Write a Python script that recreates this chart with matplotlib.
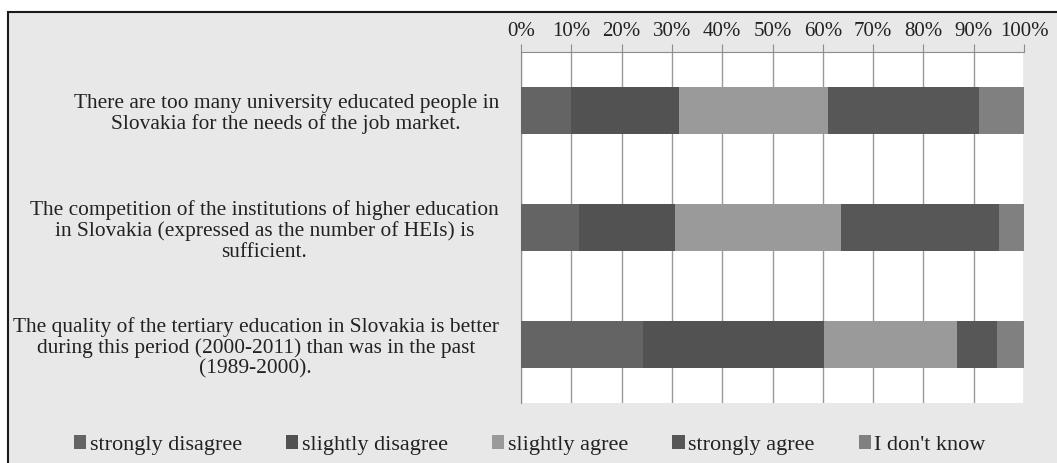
import matplotlib.pyplot as plt
from matplotlib.patches import Rectangle

plt.rcParams['font.family'] = ['Liberation Serif', 'DejaVu Serif']

statements = [
    "There are too many university educated people in\nSlovakia for the needs of the job market.",
    "The competition of the institutions of higher education\nin Slovakia (expressed as the number of HEIs) is\nsufficient.",
    "The quality of the tertiary education in Slovakia is better\nduring this period (2000-2011) than was in the past\n(1989-2000).",
]
answers = ["strongly disagree", "slightly disagree", "slightly agree", "strongly agree", "I don't know"]

strongly_disagree = [10.0, 11.5, 24.2]
slightly_disagree = [21.4, 19.1, 36.0]
slightly_agree = [29.6, 33.1, 26.4]
strongly_agree = [30.1, 31.4, 8.0]
dont_know = [8.9, 4.9, 5.4]

tick_values = list(range(0, 101, 10))
tick_labels = [f"{v}%" for v in tick_values]

colors = ["#646464", "#525252", "#9a9a9a", "#575757", "#808080"]
bg = "#e8e8e8"

fig = plt.figure(figsize=(10.57, 4.63), dpi=100)
fig.patch.set_facecolor("white")
# outer chart frame (cropped on the right and bottom)
fig.patches.append(Rectangle((8 / 1057, -0.1), 1.2, 1 - 12 / 463 + 0.1,
                             transform=fig.transFigure, facecolor=bg,
                             edgecolor="#1a1a1a", linewidth=1.5, zorder=-5))

ax = fig.add_axes([521 / 1057, 1 - 403 / 463, 503 / 1057, 351 / 463])
ax.set_zorder(2)
ax.set_facecolor("white")

series = [strongly_disagree, slightly_disagree, slightly_agree, strongly_agree, dont_know]
ypos = list(range(len(statements)))
left = [0.0] * len(statements)
for name, vals, c in zip(answers, series, colors):
    ax.barh(ypos, vals, left=left, height=0.41, color=c, label=name, zorder=3)
    left = [l + v for l, v in zip(left, vals)]

ax.set_xlim(0, 100)
ax.set_ylim(len(statements) - 0.5, -0.5)
ax.xaxis.tick_top()
ax.set_xticks(tick_values)
ax.set_xticklabels(tick_labels, fontsize=15, color="#222222")
ax.tick_params(axis="x", direction="out", length=6, color="#8c8c8c", pad=2)
ax.set_yticks(ypos)
ax.set_yticklabels(statements, fontsize=15.4, color="#222222",
                   multialignment="center", linespacing=1.1)
ax.tick_params(axis="y", length=0, pad=16)
ax.grid(axis="x", color="#999999", linewidth=1, zorder=1)
for s in ["right", "bottom"]:
    ax.spines[s].set_visible(False)
for s in ["top", "left"]:
    ax.spines[s].set_color("#8c8c8c")

leg = fig.legend(loc="center left", bbox_to_anchor=(74 / 1057, 1 - 445 / 463), ncol=5,
                 frameon=False, fontsize=16, handlelength=0.55, handleheight=0.55,
                 handletextpad=0.15, columnspacing=2.0, borderaxespad=0, borderpad=0)
leg.set_zorder(3)
for t in leg.get_texts():
    t.set_color("#222222")

fig.savefig("out.png", dpi=100, facecolor=fig.get_facecolor())
